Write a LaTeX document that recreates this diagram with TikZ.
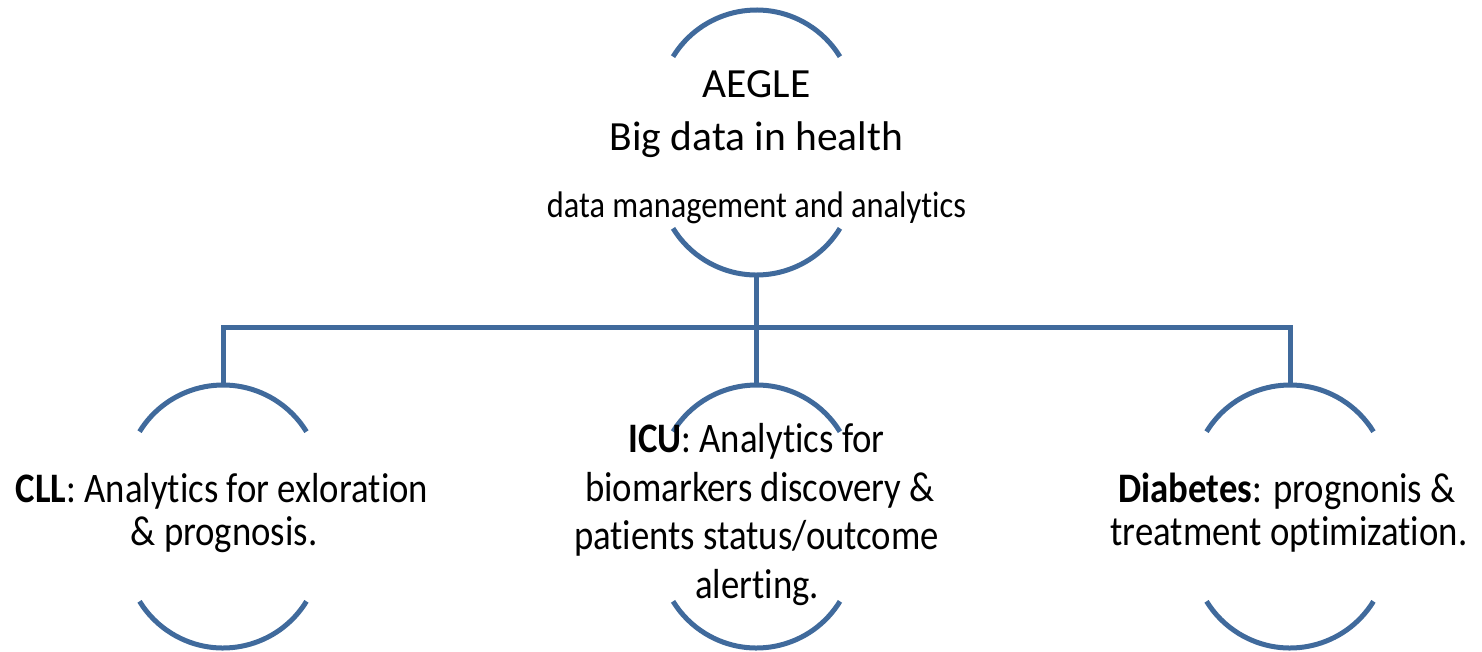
\documentclass[tikz,border=0pt]{standalone}
\usepackage{fontspec}
\setmainfont{Carlito}[RawFeature={-liga}]
\newfontfamily\narrowfont{Carlito}[FakeStretch=0.875,RawFeature={-liga}]
\definecolor{arcblue}{RGB}{64,106,156}
\begin{document}
\begin{tikzpicture}[x=1pt,y=-1pt,
  ring/.style={draw=arcblue,line width=5pt},
  link/.style={draw=arcblue,line width=5pt},
  title/.style={inner sep=0pt,anchor=base,font=\fontsize{41.5}{50}\selectfont},
  subtitle/.style={inner sep=0pt,anchor=base,font=\narrowfont\fontsize{37}{44}\selectfont},
  body/.style={inner sep=0pt,anchor=base,font=\narrowfont\fontsize{42}{48}\selectfont}]
\useasboundingbox (0,0) rectangle (1482,651);
% arc geometry: radius 98, half angle 58.4 deg
\def\rr{98}
% top circle
\draw[ring] ([shift={(211.6:\rr)}]756.5,108) arc[start angle=211.6,end angle=328.4,radius=\rr];
\draw[ring] ([shift={(31.6:\rr)}]756.5,177) arc[start angle=31.6,end angle=148.4,radius=\rr];
\coordinate (topbot) at (756.5,275);
% bottom circles
\foreach \cx/\nm in {223/cll,756.5/icu,1290/dia}{
  \draw[ring] ([shift={(211.6:\rr)}]\cx,483) arc[start angle=211.6,end angle=328.4,radius=\rr];
  \draw[ring] ([shift={(31.6:\rr)}]\cx,550) arc[start angle=31.6,end angle=148.4,radius=\rr];
  \coordinate (top-\nm) at (\cx,385);
}
\coordinate (bus) at (756.5,327);
\draw[link] (topbot) -- (bus);
\draw[link] (top-cll) |- (bus) -| (top-dia);
\draw[link] (bus) -- (top-icu);
% texts
\node[title] (t1) at (756.5,97) {AEGLE};
\node[title] (t2) at (756.5,150) {Big data in health};
\node[subtitle] (t3) at (756.5,217) {data management and analytics};
\node[body] (c1) at (222,502) {\textbf{CLL}: Analytics for exloration};
\node[body] (c2) at (224,545) {\& prognosis.};
\node[body] (i1) at (756.5,452) {\textbf{ICU}: Analytics for};
\node[body] (i2) at (760,501) {biomarkers discovery \&};
\node[body] (i3) at (756.5,549.5) {patients status/outcome};
\node[body] (i4) at (757,598) {alerting.};
\node[body] (d1) at (1287,502) {\textbf{Diabetes}: prognonis \&};
\node[body] (d2) at (1289,545) {treatment optimization.};
\end{tikzpicture}
\end{document}
